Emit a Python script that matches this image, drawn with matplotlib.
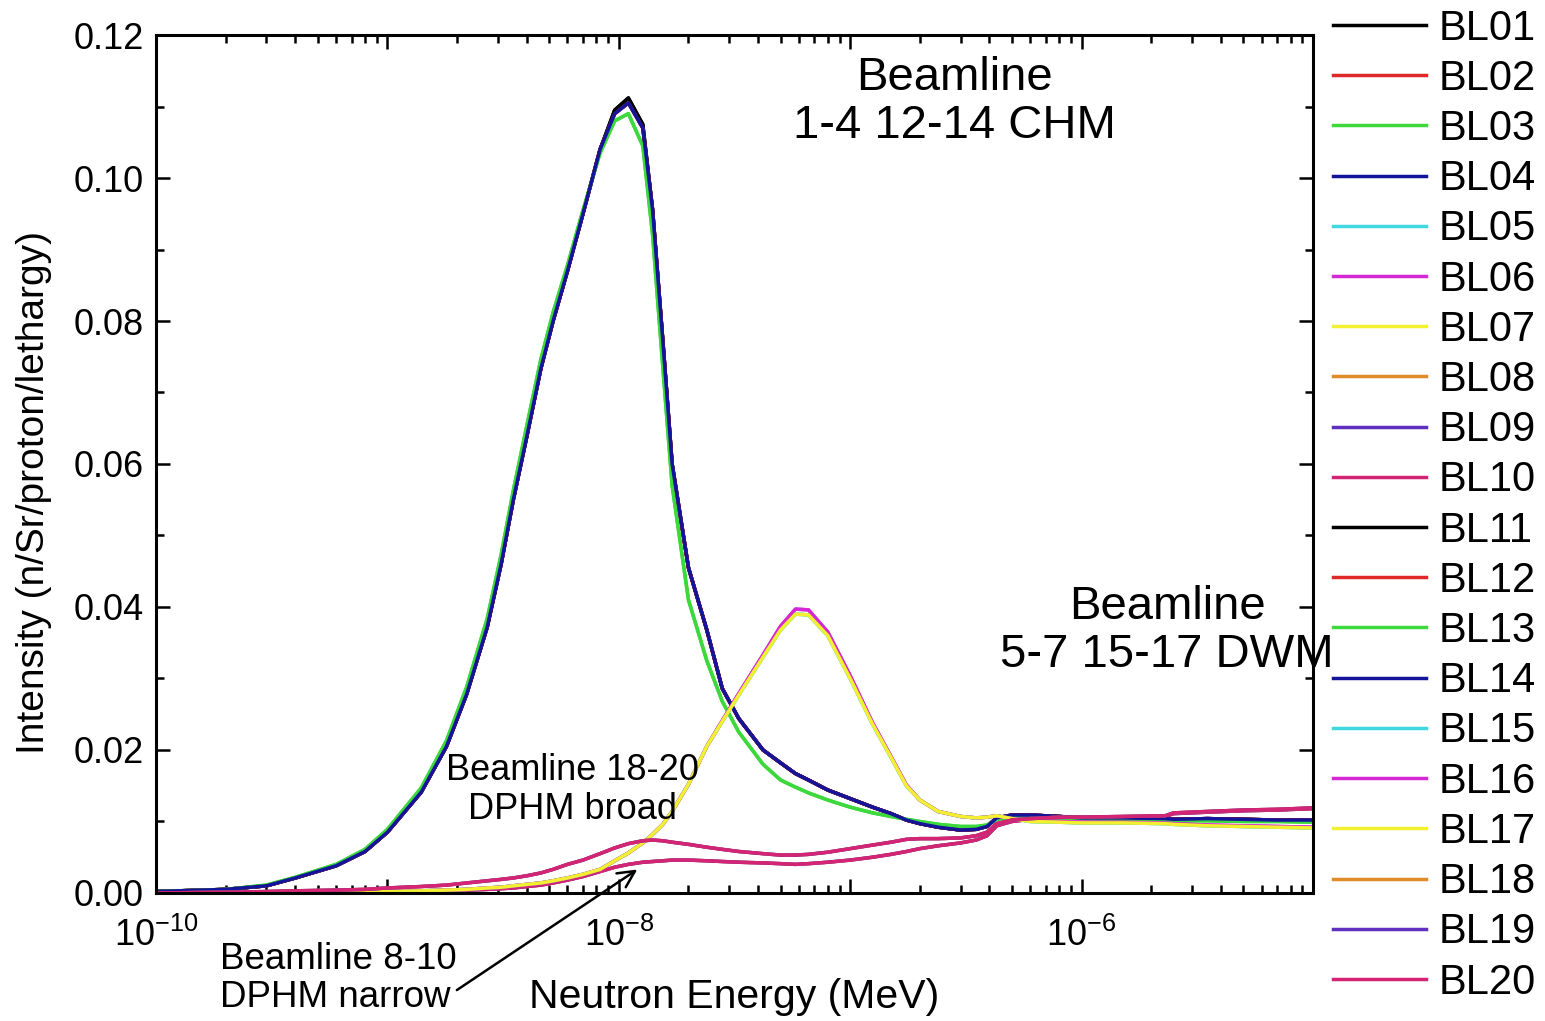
import numpy as np
import matplotlib
matplotlib.use('Agg')
from matplotlib import pyplot as plt
from matplotlib.ticker import LogLocator, MultipleLocator, FuncFormatter, NullFormatter

plt.rcParams['font.family'] = ['Liberation Sans', 'DejaVu Sans']
plt.rcParams['mathtext.fontset'] = 'custom'
plt.rcParams['mathtext.rm'] = 'Liberation Sans'
plt.rcParams['mathtext.it'] = 'Liberation Sans:italic'

# neutron energy grid (MeV)
energy = [1.0e-10, 2.0e-10, 3.0e-10, 4.0e-10, 6.0e-10, 8.0e-10, 1.0e-9, 1.4e-9, 1.8e-9, 2.2e-9,
          2.7e-9, 3.1e-9, 3.5e-9, 4.0e-9, 4.6e-9, 5.2e-9, 6.0e-9, 7.0e-9, 8.3e-9, 9.6e-9,
          1.1e-8, 1.27e-8, 1.4e-8, 1.55e-8, 1.7e-8, 2.0e-8, 2.4e-8, 2.8e-8, 3.3e-8, 4.2e-8,
          5.0e-8, 5.8e-8, 6.6e-8, 8.0e-8, 1.0e-7, 1.25e-7, 1.5e-7, 1.75e-7, 2.0e-7, 2.4e-7,
          3.0e-7, 3.5e-7, 3.9e-7, 4.3e-7, 5.0e-7, 6.0e-7, 8.0e-7, 1.0e-6, 1.5e-6, 2.3e-6,
          2.5e-6, 3.5e-6, 5.0e-6, 7.0e-6, 1.0e-5]

# coupled hydrogen moderator (CHM)
chm = [0.0002, 0.0005, 0.0010, 0.0021, 0.0038, 0.0058, 0.0085, 0.0141, 0.0205, 0.0278,
       0.0372, 0.0460, 0.0550, 0.0638, 0.0733, 0.0800, 0.0870, 0.0950, 0.1040, 0.1090,
       0.1105, 0.1070, 0.0955, 0.0772, 0.0600, 0.0455, 0.0368, 0.0286, 0.0244, 0.0200,
       0.0182, 0.0167, 0.0158, 0.0144, 0.0132, 0.0120, 0.0111, 0.0102, 0.0097, 0.0092,
       0.0088, 0.0089, 0.0093, 0.0105, 0.0109, 0.0109, 0.0107, 0.0105, 0.0105, 0.0104,
       0.0103, 0.0104, 0.0103, 0.0102, 0.0102]
chm_peak = [0.0002, 0.0005, 0.0010, 0.0021, 0.0038, 0.0058, 0.0085, 0.0141, 0.0205, 0.0278,
            0.0372, 0.0460, 0.0550, 0.0638, 0.0733, 0.0800, 0.0870, 0.0950, 0.1040, 0.1095,
            0.1112, 0.1075, 0.0955, 0.0772, 0.0600, 0.0455, 0.0368, 0.0286, 0.0244, 0.0200,
            0.0182, 0.0167, 0.0158, 0.0144, 0.0132, 0.0120, 0.0111, 0.0102, 0.0097, 0.0092,
            0.0088, 0.0089, 0.0093, 0.0105, 0.0109, 0.0109, 0.0107, 0.0105, 0.0105, 0.0104,
            0.0103, 0.0104, 0.0103, 0.0102, 0.0102]
chm_green = [0.0002, 0.0005, 0.0011, 0.0022, 0.0040, 0.0061, 0.0089, 0.0147, 0.0213, 0.0288,
             0.0384, 0.0473, 0.0563, 0.0653, 0.0746, 0.0812, 0.0878, 0.0955, 0.1035, 0.1080,
             0.1090, 0.1045, 0.0920, 0.0735, 0.0570, 0.0410, 0.0325, 0.0268, 0.0225, 0.0180,
             0.0158, 0.0148, 0.0140, 0.0130, 0.0120, 0.0112, 0.0107, 0.0103, 0.0100, 0.0096,
             0.0093, 0.0093, 0.0095, 0.0103, 0.0106, 0.0106, 0.0105, 0.0104, 0.0103, 0.0102,
             0.0101, 0.0101, 0.0100, 0.0100, 0.0099]

# decoupled water moderator (DWM)
dwm = [0.0000, 0.0000, 0.0000, 0.0000, 0.0001, 0.0001, 0.0002, 0.0003, 0.0004, 0.0005,
       0.0007, 0.0008, 0.0010, 0.0012, 0.0014, 0.0017, 0.0021, 0.0026, 0.0033, 0.0045,
       0.0056, 0.0070, 0.0082, 0.0096, 0.0114, 0.0152, 0.0205, 0.0240, 0.0277, 0.0330,
       0.0368, 0.0390, 0.0389, 0.0360, 0.0300, 0.0236, 0.0190, 0.0150, 0.0130, 0.0114,
       0.0107, 0.0105, 0.0106, 0.0108, 0.0104, 0.0100, 0.0099, 0.0098, 0.0098, 0.0097,
       0.0096, 0.0094, 0.0093, 0.0092, 0.0091]
dwm_peak = [0.0000, 0.0000, 0.0000, 0.0000, 0.0001, 0.0001, 0.0002, 0.0003, 0.0004, 0.0005,
            0.0007, 0.0008, 0.0010, 0.0012, 0.0014, 0.0017, 0.0021, 0.0026, 0.0033, 0.0045,
            0.0056, 0.0070, 0.0082, 0.0096, 0.0114, 0.0152, 0.0205, 0.0241, 0.0279, 0.0333,
            0.0373, 0.0397, 0.0396, 0.0365, 0.0304, 0.0238, 0.0191, 0.0151, 0.0130, 0.0114,
            0.0107, 0.0105, 0.0106, 0.0108, 0.0104, 0.0101, 0.0100, 0.0099, 0.0099, 0.0098,
            0.0097, 0.0095, 0.0094, 0.0093, 0.0092]

# decoupled poisoned hydrogen moderator (DPHM)
dphm_narrow = [0.0000, 0.0000, 0.0000, 0.0001, 0.0001, 0.0001, 0.0002, 0.0002, 0.0003, 0.0004,
               0.0005, 0.0006, 0.0007, 0.0009, 0.0011, 0.0014, 0.0018, 0.0023, 0.0030, 0.0036,
               0.0040, 0.0043, 0.0044, 0.0045, 0.0046, 0.0046, 0.0045, 0.0044, 0.0043, 0.0042,
               0.0041, 0.0040, 0.0041, 0.0043, 0.0046, 0.0050, 0.0054, 0.0058, 0.0062, 0.0066,
               0.0070, 0.0074, 0.0080, 0.0094, 0.0100, 0.0103, 0.0105, 0.0106, 0.0106, 0.0107,
               0.0111, 0.0113, 0.0115, 0.0116, 0.0118]
dphm_broad = [0.0000, 0.0001, 0.0002, 0.0003, 0.0004, 0.0005, 0.0007, 0.0009, 0.0011, 0.0014,
              0.0017, 0.0019, 0.0021, 0.0024, 0.0028, 0.0033, 0.0040, 0.0046, 0.0055, 0.0063,
              0.0069, 0.0073, 0.0074, 0.0073, 0.0071, 0.0068, 0.0064, 0.0061, 0.0058, 0.0055,
              0.0053, 0.0053, 0.0054, 0.0057, 0.0062, 0.0067, 0.0071, 0.0075, 0.0076, 0.0076,
              0.0077, 0.0080, 0.0085, 0.0097, 0.0102, 0.0104, 0.0106, 0.0106, 0.0107, 0.0108,
              0.0112, 0.0114, 0.0116, 0.0117, 0.0119]

beamlines = ['BL%02d' % i for i in range(1, 21)]
series = [chm_peak, chm, chm_green, chm, dwm, dwm_peak, dwm, dphm_narrow, dphm_narrow, dphm_narrow,
          chm_peak, chm, chm_green, chm, dwm, dwm_peak, dwm, dphm_broad, dphm_broad, dphm_broad]
palette = ['#000000', '#e02828', '#3cd83c', '#14149a', '#40d8e0',
           '#d428d4', '#f2f030', '#e08c28', '#6030c0', '#d42474']
colors = palette + palette

fig = plt.figure(figsize=(15.45, 10.21), dpi=100)
ax = fig.add_axes([0.101, 0.1254, 0.7488, 0.8403])

for name, vals, c in zip(beamlines, series, colors):
    ax.plot(energy, vals, color=c, lw=2.5, label=name)

ax.set_xscale('log')
ax.set_xlim(1e-10, 1e-5)
ax.set_ylim(0, 0.12)

ax.xaxis.set_major_locator(LogLocator(base=10, numticks=20))
ax.xaxis.set_minor_locator(LogLocator(base=10, subs=np.arange(2, 10), numticks=20))
ax.xaxis.set_minor_formatter(NullFormatter())

def even_decades(v, pos):
    e = int(round(np.log10(v)))
    return r'$10^{%d}$' % e if e % 2 == 0 else ''

ax.xaxis.set_major_formatter(FuncFormatter(even_decades))
ax.yaxis.set_major_locator(MultipleLocator(0.02))
ax.yaxis.set_minor_locator(MultipleLocator(0.01))
ax.yaxis.set_major_formatter(FuncFormatter(lambda v, p: '%.2f' % v))

ax.tick_params(which='both', direction='in', top=True, right=True, width=1.8, colors='black')
ax.tick_params(which='major', length=10)
ax.tick_params(which='minor', length=6)
ax.tick_params(axis='y', labelsize=26, pad=9)
ax.tick_params(axis='x', labelsize=26, pad=18)
for s in ax.spines.values():
    s.set_linewidth(2.2)

ax.set_xlabel('Neutron Energy (MeV)', fontsize=29.5, labelpad=17)
ax.set_ylabel('Intensity (n/Sr/proton/lethargy)', fontsize=28)
ax.yaxis.set_label_coords(-0.09, 0.467)

fig.text(954 / 1545, 1 - 102 / 1021, 'Beamline\n1-4 12-14 CHM', fontsize=34,
         ha='center', va='center', multialignment='center', linespacing=1.12)
fig.text(1167 / 1545, 1 - 631 / 1021, 'Beamline\n5-7 15-17 DWM', fontsize=34,
         ha='center', va='center', multialignment='center', linespacing=1.12)
fig.text(572 / 1545, 1 - 790 / 1021, 'Beamline 18-20\nDPHM broad', fontsize=26,
         ha='center', va='center', multialignment='center', linespacing=1.12)
fig.text(220 / 1545, 1 - 942 / 1021, 'Beamline 8-10\nDPHM narrow', fontsize=26.5,
         ha='left', va='top', linespacing=1.12)

ax.annotate('', xy=(1.23e-8, 0.0035), xytext=(0.258, -0.115), textcoords='axes fraction',
            arrowprops=dict(arrowstyle='->', lw=1.8, color='black', mutation_scale=30),
            annotation_clip=False)

ax.legend(loc='upper left', bbox_to_anchor=(0.863, 0.9916), bbox_transform=fig.transFigure,
          frameon=False, fontsize=30, handlelength=2.23, handletextpad=0.29,
          labelspacing=0.245, borderpad=0, borderaxespad=0)

fig.savefig('out.png', dpi=100)
